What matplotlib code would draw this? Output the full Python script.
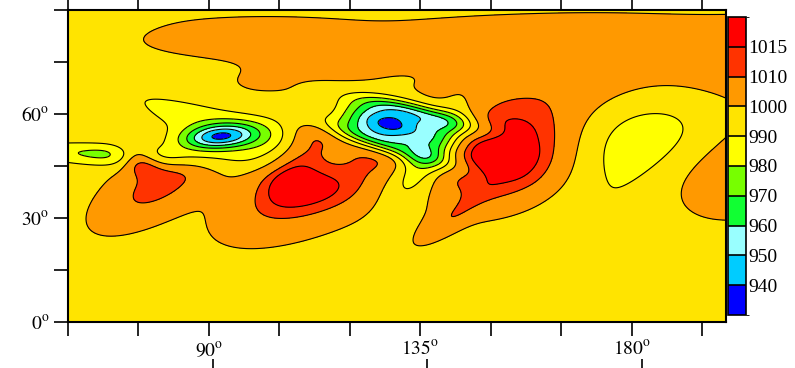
import matplotlib
matplotlib.use('Agg')
import matplotlib.pyplot as plt
import numpy as np
from matplotlib.colors import ListedColormap, BoundaryNorm
from matplotlib.ticker import MultipleLocator, FixedLocator

plt.rcParams['font.family'] = ['Liberation Serif', 'DejaVu Serif']
plt.rcParams['mathtext.fontset'] = 'stix'

# pressure levels and colours (hPa)
levels = [925, 940, 950, 960, 970, 980, 990, 1000, 1010, 1015, 1030]
colors = ['#0000FF', '#00CCFF', '#99FFFF', '#11FF33', '#77FF00',
          '#FFFF00', '#FFE400', '#FF9900', '#FF3300', '#FF0000']
cbar_ticks = [940, 950, 960, 970, 980, 990, 1000, 1010, 1015]

base_p = 996.4

# pressure centres estimated from the contours of the picture:
# lon, lat, anomaly (hPa), spread along / across (deg), tilt (deg)
c_lon  = [91.8, 96.9, 127.5, 128.9, 133.7, 137.1, 70.9, 178.3, 80.1, 75.1,
          115.5, 110.1, 155.3, 141.0, 203.3, 138.3, 189.3, 96.5, 130.0, 185.0]
c_lat  = [53.3, 54.4, 51.8, 56.6, 60.1, 49.2, 48.2, 50.3, 40.3, 46.9,
          40.6, 49.5, 46.0, 29.5, 44.4, 81.8, 72.1, 83.2, 91.0, 86.0]
c_amp  = [-51.3, -17.3, -37.8, -63.0, -42.4, -28.9, -21.5, -22.2, 17.0, 23.0,
          22.7, 18.8, 27.8, 9.3, 13.8, 4.6, 19.7, 6.4, -5.0, 4.0]
c_sx   = [5.59, 19.96, 10.35, 6.99, 9.08, 3.34, 15.74, 11.84, 11.69, 2.54,
          15.33, 4.22, 13.16, 6.98, 21.65, 80.0, 26.41, 19.03, 200.0, 14.0]
c_sy   = [2.49, 4.67, 2.20, 2.64, 2.20, 9.54, 2.38, 23.75, 5.07, 3.28,
          6.79, 9.00, 10.93, 2.20, 9.23, 6.63, 10.14, 5.19, 1.5, 3.0]
c_tilt = [9, -23, -24, -20, -18, -28, -4, -33, 43, 52,
          33, -30, 6, 46, 17, 20, 15, 5, 0, 0]

lon = np.arange(60, 200.01, 0.25)
lat = np.arange(0, 90.01, 0.25)
LON, LAT = np.meshgrid(lon, lat)
P = np.full(LON.shape, base_p)
for x0, y0, a, sx, sy, t in zip(c_lon, c_lat, c_amp, c_sx, c_sy, c_tilt):
    th = np.radians(t)
    u = (LON - x0) * np.cos(th) + (LAT - y0) * np.sin(th)
    v = -(LON - x0) * np.sin(th) + (LAT - y0) * np.cos(th)
    P += a * np.exp(-(u**2 / (2 * sx**2) + v**2 / (2 * sy**2)))

cmap = ListedColormap(colors)
norm = BoundaryNorm(levels, cmap.N)

fig = plt.figure(figsize=(7.95, 3.68), dpi=100)
ax = fig.add_axes([0.0855, 0.125, 0.8275, 0.848])
ax.contourf(LON, LAT, P, levels=levels, cmap=cmap, norm=norm)
ax.contour(LON, LAT, P, levels=levels[1:-1], colors='k', linewidths=0.8)

ax.set_xlim(60, 200)
ax.set_ylim(0, 90)
ax.xaxis.set_major_locator(FixedLocator([90, 135, 180]))
ax.xaxis.set_minor_locator(MultipleLocator(15))
ax.yaxis.set_major_locator(FixedLocator([0, 30, 60]))
ax.yaxis.set_minor_locator(MultipleLocator(15))
ax.set_xticklabels([r'$\mathrm{%d^{o}}$' % v for v in [90, 135, 180]])
ax.set_yticklabels([r'$\mathrm{%d^{o}}$' % v for v in [0, 30, 60]])
ax.tick_params(which='both', direction='out', length=10, width=1.2,
               top=True, right=False, labelsize=14)
ax.tick_params(axis='x', pad=3)
for s in ax.spines.values():
    s.set_linewidth(1.5)

cax = fig.add_axes([0.9157, 0.144, 0.0225, 0.81])
cb = matplotlib.colorbar.ColorbarBase(cax, cmap=cmap, norm=norm,
                                      boundaries=levels, spacing='uniform',
                                      ticks=cbar_ticks, drawedges=True)
cb.outline.set_linewidth(1.2)
cb.dividers.set_linewidth(1.2)
cax.tick_params(length=0, labelsize=14, pad=2)

# top ticks of the next panel, cut by the lower edge
ax2 = fig.add_axes([0.088, -0.2, 0.839, 0.195])
ax2.set_xlim(60, 200)
ax2.set_xticks([90, 135, 180])
ax2.tick_params(axis='x', top=True, bottom=False, labeltop=False,
                labelbottom=False, direction='out', length=8, width=1.2)
ax2.set_yticks([])
for s in ax2.spines.values():
    s.set_visible(False)

fig.savefig('out.png', dpi=100)
